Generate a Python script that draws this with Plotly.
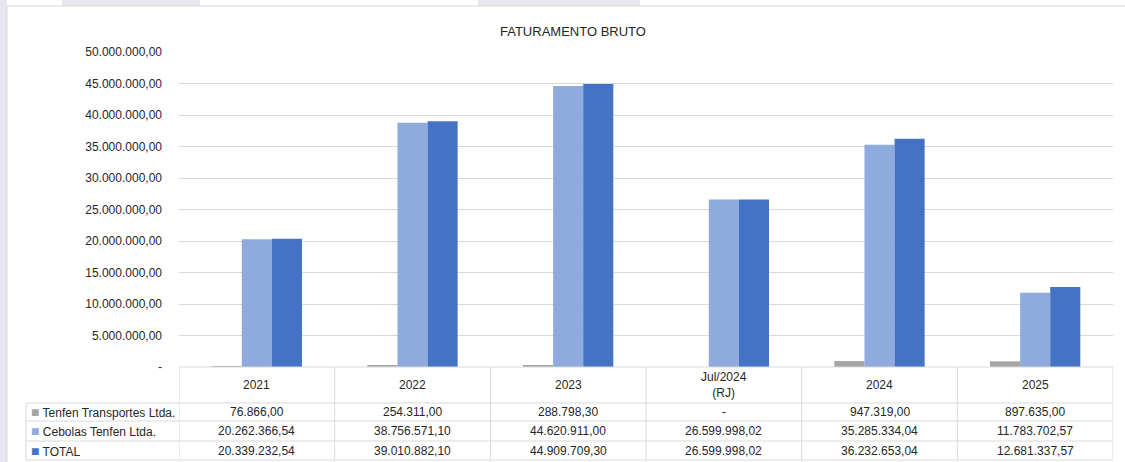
import plotly.graph_objects as go

# ---- data ----
categories = ["2021", "2022", "2023", "Jul/2024<br>(RJ)", "2024", "2025"]
series_names = ["Tenfen Transportes Ltda.", "Cebolas Tenfen Ltda.", "TOTAL"]
transportes = [76866.00, 254311.00, 288798.30, None, 947319.00, 897635.00]
cebolas = [20262366.54, 38756571.10, 44620911.00, 26599998.02, 35285334.04, 11783702.57]
total = [20339232.54, 39010882.10, 44909709.30, 26599998.02, 36232653.04, 12681337.57]
ytick_vals = [0, 5e6, 10e6, 15e6, 20e6, 25e6, 30e6, 35e6, 40e6, 45e6, 50e6]
title_text = "FATURAMENTO BRUTO"

colors = ["#a5a5a5", "#8faadc", "#4472c4"]
series_vals = [transportes, cebolas, total]

W, H = 1125, 462
L, R, T, B = 179, 1113, 52, 367
FONT = "Liberation Sans"
GRID = "#d9d9d9"
TXT = "#262626"


def br(v):
    if v is None or v == 0:
        return "-"
    s = f"{v:,.2f}"
    return s.replace(",", "X").replace(".", ",").replace("X", ".")


def px(x):
    return (x - L) / (R - L)


def py(y):
    return (B - y) / (B - T)


fig = go.Figure()
for name, vals, c in zip(series_names, series_vals, colors):
    fig.add_trace(go.Bar(
        x=list(range(len(categories))), y=vals, name=name,
        marker=dict(color=c, line=dict(width=0)),
        showlegend=False, hoverinfo="skip",
    ))

shapes = []
annotations = []

# background decorations (page edges)
lav = "#e6e6ef"
shapes.append(dict(type="rect", xref="paper", yref="paper", x0=px(0), x1=px(7), y0=py(H), y1=py(0),
                   fillcolor=lav, line=dict(width=0), layer="below"))
for a, b in [(62, 200), (478, 640)]:
    shapes.append(dict(type="rect", xref="paper", yref="paper", x0=px(a), x1=px(b), y0=py(6), y1=py(0),
                       fillcolor=lav, line=dict(width=0), layer="below"))
# chart border
shapes.append(dict(type="line", xref="paper", yref="paper", x0=px(7), x1=px(W), y0=py(6), y1=py(6),
                   line=dict(color=GRID, width=1)))
shapes.append(dict(type="line", xref="paper", yref="paper", x0=px(7), x1=px(7), y0=py(6), y1=py(H),
                   line=dict(color=GRID, width=1)))

# table rows (pixel y boundaries)
row_edges = [367, 403, 421, 441, 460]
for i, yy in enumerate(row_edges):
    x0 = px(26) if i >= 1 else 0
    shapes.append(dict(type="line", xref="paper", yref="paper", x0=x0, x1=1, y0=py(yy), y1=py(yy),
                       line=dict(color=GRID, width=1)))
for k in range(len(categories) + 1):
    shapes.append(dict(type="line", xref="x", yref="paper", x0=k - 0.5, x1=k - 0.5,
                       y0=py(367), y1=py(460), line=dict(color=GRID, width=1)))
shapes.append(dict(type="line", xref="paper", yref="paper", x0=px(26), x1=px(26),
                   y0=py(403), y1=py(460), line=dict(color=GRID, width=1)))

hdr_c = (row_edges[0] + row_edges[1]) / 2
for k, cat in enumerate(categories):
    annotations.append(dict(x=k, xref="x", y=py(hdr_c), yref="paper", text=cat, showarrow=False,
                            xanchor="center", yanchor="middle", font=dict(family=FONT, size=12, color=TXT)))
for r, (name, vals, c) in enumerate(zip(series_names, series_vals, colors)):
    yc = py((row_edges[r + 1] + row_edges[r + 2]) / 2)
    annotations.append(dict(x=px(29), xref="paper", y=yc, yref="paper",
                            text=f"<span style='color:{c};font-size:14px'>■</span><span> {name}</span>",
                            showarrow=False,
                            xanchor="left", yanchor="middle", font=dict(family=FONT, size=12, color=TXT)))
    for k, v in enumerate(vals):
        annotations.append(dict(x=k, xref="x", y=yc, yref="paper", text=br(v), showarrow=False,
                                xanchor="center", yanchor="middle", font=dict(family=FONT, size=12, color=TXT)))

annotations.append(dict(x=px(573), xref="paper", y=py(31), yref="paper", text=title_text, showarrow=False,
                        xanchor="center", yanchor="middle", font=dict(family=FONT, size=13, color=TXT)))

fig.update_layout(
    width=W, height=H,
    margin=dict(l=L, r=W - R, t=T, b=H - B, pad=0),
    paper_bgcolor="white", plot_bgcolor="white",
    barmode="group", bargap=0.42, bargroupgap=0,
    shapes=shapes, annotations=annotations,
    xaxis=dict(range=[-0.5, len(categories) - 0.5], showticklabels=False, showgrid=False,
               zeroline=False, showline=False, ticks=""),
    yaxis=dict(range=[0, 50e6], tickvals=ytick_vals, ticktext=[br(v) for v in ytick_vals],
               showgrid=True, gridcolor=GRID, gridwidth=1, zeroline=False, showline=False,
               ticks="", ticklabelstandoff=16, tickfont=dict(family=FONT, size=12, color=TXT)),
    font=dict(family=FONT),
)

fig.write_html("out.html", config={"displayModeBar": False},
               post_script="document.body.style.margin='0';document.body.style.overflow='hidden';")
